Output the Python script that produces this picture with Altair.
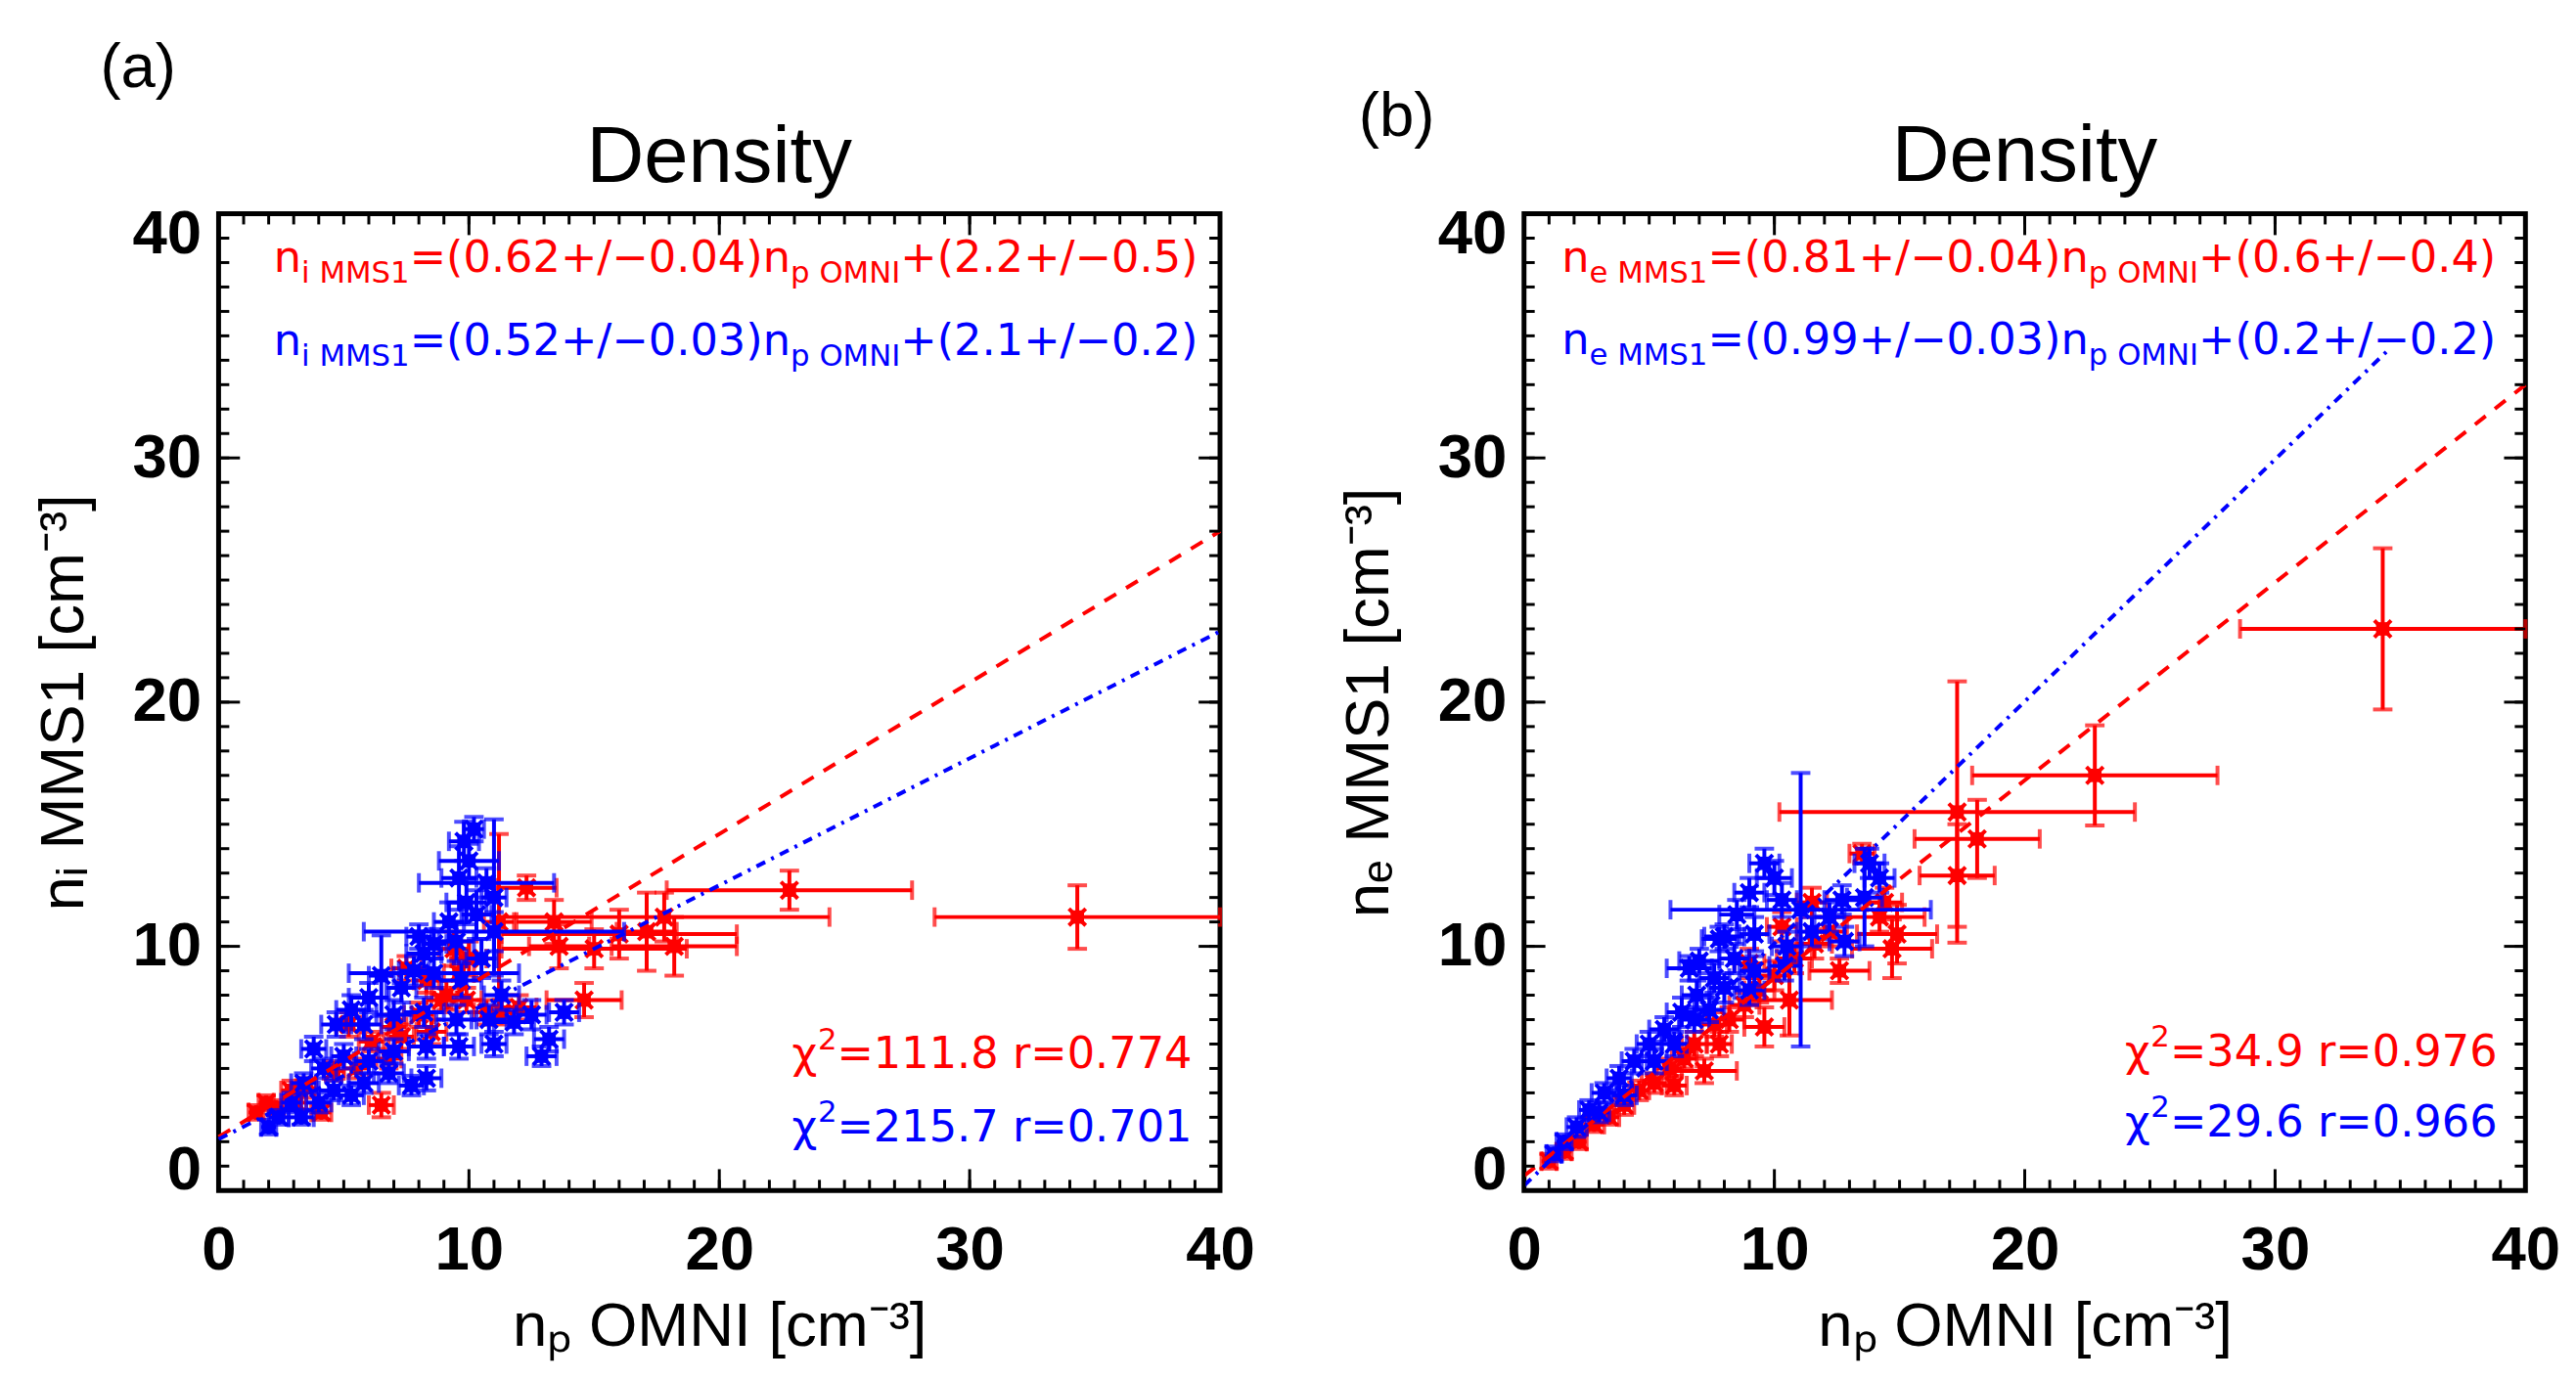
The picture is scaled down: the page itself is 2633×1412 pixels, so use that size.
import altair as alt
import pandas as pd

# ---------------- data ----------------
# Panel (a): n_i MMS1 vs n_p OMNI
A_RED_X  = [34.3, 22.8, 17.8, 16.0, 17.1, 15.0, 14.6, 13.4, 13.6, 11.2, 18.2, 12.3, 7.5, 8.3, 8.9, 9.9, 10.7, 6.1, 4.6, 2.9,
            1.9, 1.5, 6.5, 7.0, 8.5, 4.1, 5.2, 9.1, 11.3, 12.0, 7.3, 5.5, 3.5, 3.1, 8.0, 10.0, 9.6, 2.3, 6.8, 9.4]
A_RED_Y  = [11.2, 12.3, 11.2, 10.5, 10.6, 9.9, 7.8, 11.0, 10.0, 11.0, 10.0, 12.4, 9.1, 8.6, 7.8, 7.8, 7.3, 6.1, 4.9, 4.1,
            3.6, 3.2, 3.5, 6.7, 6.5, 3.2, 6.8, 8.0, 7.3, 7.5, 6.3, 5.0, 4.2, 3.6, 7.2, 9.5, 8.9, 3.4, 5.4, 9.9]
A_RED_XE = [5.7, 4.9, 6.6, 4.7, 1.2, 3.7, 1.5, 1.5, 1.2, 0.6, 2.5, 1.2, 0.6, 0.5, 0.6, 0.6, 0.5, 0.5, 0.4, 0.4,
            0.3, 0.3, 0.5, 0.5, 0.6, 0.4, 0.5, 0.6, 0.6, 0.7, 0.5, 0.5, 0.4, 0.4, 0.6, 0.7, 0.6, 0.3, 0.5, 0.6]
A_RED_YE = [1.3, 0.8, 1.0, 1.0, 1.6, 0.8, 0.7, 0.9, 0.9, 3.6, 1.2, 0.5, 0.5, 0.5, 0.5, 0.5, 0.5, 0.4, 0.4, 0.4,
            0.3, 0.3, 0.5, 0.5, 0.5, 0.3, 0.5, 0.6, 0.5, 0.5, 0.5, 0.4, 0.4, 0.3, 0.5, 0.7, 0.6, 0.3, 0.4, 0.7]

A_BLUE_X  = [11.0, 10.7, 11.0, 8.6, 6.5, 9.8, 10.0, 9.6, 10.2, 9.9, 10.3, 9.2, 9.5, 8.6, 8.2, 7.8, 10.5, 9.7, 7.3, 6.0,
             5.3, 4.7, 5.8, 7.0, 8.2, 9.5, 10.8, 11.8, 12.5, 13.8, 13.2, 12.9, 11.0, 9.6, 8.3, 7.0, 8.3, 7.7, 6.0, 5.0,
             4.2, 3.8, 3.4, 4.6, 5.8, 2.9, 2.4, 2.0, 3.3, 4.0, 5.3, 6.8, 11.3, 8.0]
A_BLUE_Y  = [12.0, 12.6, 10.6, 8.9, 8.8, 14.3, 13.5, 12.8, 14.8, 11.8, 11.3, 11.0, 10.2, 10.1, 9.7, 9.0, 9.5, 8.6, 8.3, 7.9,
             7.4, 6.8, 6.8, 7.2, 7.3, 7.0, 7.0, 6.9, 7.2, 7.3, 6.2, 5.5, 6.0, 5.9, 5.9, 5.7, 4.6, 4.3, 5.3, 5.5,
             5.0, 5.8, 4.4, 4.1, 4.4, 3.6, 3.0, 2.6, 3.0, 3.6, 3.9, 4.8, 8.0, 10.4]
A_BLUE_XE = [0.5, 2.7, 5.2, 3.4, 0.5, 0.6, 1.2, 0.7, 0.4, 0.8, 0.6, 0.6, 0.7, 0.5, 0.7, 0.6, 0.6, 0.8, 0.6, 0.8,
             0.6, 0.6, 0.7, 0.7, 0.8, 0.8, 0.7, 0.8, 0.6, 0.6, 0.6, 0.6, 0.5, 0.6, 0.7, 0.6, 0.6, 0.5, 0.6, 0.5,
             0.5, 0.5, 0.5, 0.6, 0.6, 0.4, 0.4, 0.3, 0.5, 0.5, 0.5, 0.6, 0.7, 0.5]
A_BLUE_YE = [3.2, 0.6, 0.8, 0.6, 1.65, 0.8, 0.7, 1.3, 0.5, 0.9, 1.0, 0.8, 0.8, 0.6, 0.6, 0.6, 0.8, 0.7, 0.6, 0.6,
             0.6, 0.5, 0.6, 0.6, 0.6, 0.6, 0.6, 0.5, 0.6, 0.5, 0.5, 0.4, 0.5, 0.5, 0.5, 0.5, 0.5, 0.4, 0.5, 0.5,
             0.4, 0.5, 0.4, 0.4, 0.4, 0.4, 0.3, 0.3, 0.3, 0.4, 0.4, 0.4, 0.6, 0.5]

# Panel (b): n_e MMS1 vs n_p OMNI
B_RED_X  = [34.3, 22.8, 17.3, 18.1, 17.3, 14.9, 14.7, 10.6, 9.6, 7.2, 14.2, 12.6, 13.5, 1.0, 1.6, 2.2, 2.8, 3.4, 4.0, 4.6,
            5.2, 5.8, 6.4, 6.8, 7.6, 8.2, 8.8, 9.4, 10.0, 10.8, 11.6, 12.2, 6.0, 7.8, 9.0, 10.3, 11.5, 14.4]
B_RED_Y  = [23.0, 17.0, 15.5, 14.4, 12.9, 10.5, 9.9, 7.8, 6.7, 4.9, 11.2, 9.0, 13.8, 1.2, 1.6, 2.0, 2.7, 3.0, 3.5, 4.1,
            4.4, 5.0, 5.4, 6.0, 6.8, 7.0, 7.6, 8.2, 8.8, 9.5, 10.1, 10.6, 4.3, 6.0, 9.3, 10.8, 11.8, 11.8]
B_RED_XE = [5.7, 4.9, 7.1, 2.5, 1.5, 1.6, 1.6, 1.7, 0.8, 1.3, 1.8, 1.2, 0.5, 0.3, 0.3, 0.3, 0.4, 0.4, 0.4, 0.4,
            0.5, 0.5, 0.5, 0.5, 0.5, 0.6, 0.6, 0.6, 0.6, 0.7, 0.7, 0.7, 0.5, 0.5, 0.6, 0.6, 0.6, 0.7]
B_RED_YE = [3.3, 2.05, 5.35, 1.6, 2.1, 1.2, 1.2, 1.45, 0.8, 0.5, 0.6, 0.5, 0.4, 0.3, 0.3, 0.3, 0.3, 0.3, 0.4, 0.4,
            0.4, 0.4, 0.4, 0.5, 0.5, 0.5, 0.5, 0.5, 0.6, 0.6, 0.6, 0.6, 0.4, 0.5, 0.6, 0.6, 0.6, 0.6]

B_BLUE_X  = [11.05, 13.6, 9.6, 10.0, 9.0, 10.3, 13.8, 14.2, 12.7, 12.2, 12.8, 8.5, 8.0, 7.0, 9.2, 8.4, 7.6, 6.9, 6.3, 5.6,
             5.0, 4.4, 3.8, 3.2, 2.6, 2.1, 1.6, 1.2, 5.2, 6.8, 8.0, 9.2, 10.5, 11.5, 4.0, 3.0, 6.0, 7.4, 9.0, 10.4,
             6.6, 7.8]
B_BLUE_Y  = [11.5, 12.0, 13.4, 12.8, 12.2, 11.9, 13.4, 12.8, 11.9, 11.2, 10.2, 11.3, 10.4, 9.4, 10.5, 9.5, 8.7, 8.0, 7.3, 6.6,
             6.0, 5.3, 4.6, 4.0, 3.3, 2.6, 2.0, 1.5, 5.3, 7.0, 8.3, 9.0, 10.0, 10.6, 3.9, 3.2, 6.0, 7.4, 8.2, 9.2,
             9.1, 10.3]
B_BLUE_XE = [5.2, 0.7, 0.6, 0.7, 0.6, 0.6, 0.6, 0.6, 0.7, 0.6, 0.6, 0.7, 0.8, 0.8, 0.6, 0.6, 0.6, 0.6, 0.6, 0.6,
             0.5, 0.5, 0.5, 0.5, 0.4, 0.4, 0.3, 0.3, 0.5, 0.6, 0.6, 0.6, 0.6, 0.6, 0.5, 0.4, 0.5, 0.6, 0.6, 0.6,
             0.9, 0.7]
B_BLUE_YE = [5.6, 2.0, 0.6, 0.7, 0.6, 0.7, 0.6, 0.6, 0.6, 0.6, 0.6, 0.6, 0.5, 0.5, 0.7, 0.6, 0.6, 0.6, 0.6, 0.5,
             0.5, 0.5, 0.5, 0.4, 0.4, 0.4, 0.3, 0.3, 0.5, 0.5, 0.6, 0.6, 0.6, 0.6, 0.4, 0.4, 0.5, 0.5, 0.6, 0.6,
             0.5, 0.5]

# Fit lines (end points)
A_RED_FIT_X, A_RED_FIT_Y = [0, 40], [2.2, 27.0]
A_BLUE_FIT_X, A_BLUE_FIT_Y = [0, 40], [2.1, 22.9]
B_RED_FIT_X, B_RED_FIT_Y = [0, 40], [0.6, 33.0]
B_BLUE_FIT_X, B_BLUE_FIT_Y = [0, 34.6], [0.2, 34.5]

# Axis ticks
MAJOR = [0, 10, 20, 30, 40]
MINOR = list(range(0, 41))

# Annotation texts
A_EQ_RED = [("n", "main"), ("i MMS1", "sub"), ("=(0.62+/\u22120.04)n", "main"), ("p OMNI", "sub"), ("+(2.2+/\u22120.5)", "main")]
A_EQ_BLUE = [("n", "main"), ("i MMS1", "sub"), ("=(0.52+/\u22120.03)n", "main"), ("p OMNI", "sub"), ("+(2.1+/\u22120.2)", "main")]
A_CHI_RED = [("\u03c7", "main"), ("2", "sup"), ("=111.8 r=0.774", "main")]
A_CHI_BLUE = [("\u03c7", "main"), ("2", "sup"), ("=215.7 r=0.701", "main")]
B_EQ_RED = [("n", "main"), ("e MMS1", "sub"), ("=(0.81+/\u22120.04)n", "main"), ("p OMNI", "sub"), ("+(0.6+/\u22120.4)", "main")]
B_EQ_BLUE = [("n", "main"), ("e MMS1", "sub"), ("=(0.99+/\u22120.03)n", "main"), ("p OMNI", "sub"), ("+(0.2+/\u22120.2)", "main")]
B_CHI_RED = [("\u03c7", "main"), ("2", "sup"), ("=34.9 r=0.976", "main")]
B_CHI_BLUE = [("\u03c7", "main"), ("2", "sup"), ("=29.6 r=0.966", "main")]
TITLE = "Density"
X_TITLE = "n\u209a OMNI [cm\u207b\u00b3]"
A_Y_TITLE = "n\u1d62 MMS1 [cm\u207b\u00b3]"
B_Y_TITLE = "n\u2091 MMS1 [cm\u207b\u00b3]"

# ---------------- styling ----------------
RED = "#ff0000"
BLUE = "#0000ff"
W, H = 1031, 1006
PPU = W / 40.0
FONT = "Liberation Sans"
TFONT = "DejaVu Sans"
MAIN_FS, SUB_FS = 45, 31
XPATH = "M-1,-1L1,1M-1,1L1,-1"

# DejaVu Sans advance widths (em)
ADV = {" ": 0.318, "(": 0.390, ")": 0.390, "+": 0.838, ".": 0.318, "/": 0.337, "=": 0.838, "\u2212": 0.838,
       "I": 0.295, "M": 0.863, "N": 0.748, "O": 0.787, "S": 0.635, "e": 0.615, "i": 0.278, "n": 0.634,
       "p": 0.635, "r": 0.411, "\u03c7": 0.592}
for d in "0123456789":
    ADV[d] = 0.636


def compose(parts, x0, y0, color):
    rows = []
    cx = x0
    for text, kind in parts:
        fs = MAIN_FS if kind == "main" else SUB_FS
        rows.append({"x": cx, "y": y0, "t": text, "kind": kind, "c": color})
        cx += sum(ADV.get(ch, 0.6) for ch in text) * fs / PPU
    return rows


XS = alt.Scale(domain=[0, 40], nice=False, zero=False)
YS = alt.Scale(domain=[0, 40], nice=False, zero=False)


def panel(label, label_xy, title_y, ytitle, red, blue, red_fit, blue_fit, texts):
    xaxis = alt.Axis(values=MAJOR, grid=False, domain=False, ticks=False, tickSize=0,
                     labelFont=FONT, labelFontSize=64, labelFontWeight="bold", labelColor="black",
                     labelPadding=30, labelFlush=False,
                     title=X_TITLE, titleFont=FONT, titleFontSize=64,
                     titleFontWeight="normal", titleColor="black", titlePadding=14)
    yaxis = alt.Axis(values=MAJOR, grid=False, domain=False, ticks=False, tickSize=0,
                     labelFont=FONT, labelFontSize=64, labelFontWeight="bold", labelColor="black",
                     labelPadding=18, labelFlush=True, labelFlushOffset=11,
                     title=ytitle, titleFont=FONT, titleFontSize=64,
                     titleFontWeight="normal", titleColor="black", titlePadding=38)

    def X(f):
        return alt.X(f, scale=XS, axis=xaxis)

    def Y(f):
        return alt.Y(f, scale=YS, axis=yaxis)

    layers = []
    # error bars + points
    for (xs_, ys_, xe_, ye_), col in ((red, RED), (blue, BLUE)):
        df = pd.DataFrame({"x": xs_, "y": ys_, "xe": xe_, "ye": ye_})
        base = alt.Chart(df)
        layers.append(base.mark_errorbar(ticks=True, size=20, thickness=4, color=col).encode(
            x=X("x:Q"), xError="xe:Q", y=Y("y:Q")))
        layers.append(base.mark_errorbar(ticks=True, size=20, thickness=4, color=col).encode(
            y=Y("y:Q"), yError="ye:Q", x=X("x:Q")))
        layers.append(base.mark_square(size=190, filled=True, color=col, opacity=1).encode(
            x=X("x:Q"), y=Y("y:Q")))
        layers.append(base.mark_point(shape=XPATH, filled=False, size=300, strokeWidth=4, color=col, opacity=1).encode(
            x=X("x:Q"), y=Y("y:Q")))
    # fit lines
    for (fx, fy), col, dash in ((red_fit, RED, [14, 12]), (blue_fit, BLUE, [10, 7, 3, 7])):
        ldf = pd.DataFrame({"x": fx, "y": fy})
        layers.append(alt.Chart(ldf).mark_line(color=col, strokeWidth=4, strokeDash=dash).encode(
            x=X("x:Q"), y=Y("y:Q")))
    # annotation texts
    rows = []
    for parts, x0, y0, col in texts:
        rows += compose(parts, x0, y0, col)
    tdf = pd.DataFrame(rows)
    for kind, fs, dy in (("main", MAIN_FS, 0), ("sub", SUB_FS, 11), ("sup", SUB_FS, -20)):
        sub = tdf[tdf["kind"] == kind]
        layers.append(alt.Chart(sub).mark_text(align="left", baseline="alphabetic", font=TFONT, fontSize=fs, dy=dy).encode(
            x=X("x:Q"), y=Y("y:Q"), text="t:N", color=alt.Color("c:N", scale=None)))
    # panel label and title
    ldf = pd.DataFrame({"x": [label_xy[0]], "y": [label_xy[1]], "t": [label]})
    layers.append(alt.Chart(ldf).mark_text(align="left", baseline="alphabetic", font=FONT, fontSize=64, color="black").encode(
        x=X("x:Q"), y=Y("y:Q"), text="t:N"))
    tldf = pd.DataFrame({"x": [20], "y": [title_y], "t": [TITLE]})
    layers.append(alt.Chart(tldf).mark_text(align="center", baseline="alphabetic", font=FONT, fontSize=82, color="black").encode(
        x=X("x:Q"), y=Y("y:Q"), text="t:N"))
    # inward ticks on all four sides
    for vals, L in ((MINOR, 11), (MAJOR, 22)):
        tc = alt.Chart(pd.DataFrame({"v": vals}))
        layers.append(tc.mark_rule(color="black", strokeWidth=3).encode(x=X("v:Q"), y=alt.value(H), y2=alt.value(H - L)))
        layers.append(tc.mark_rule(color="black", strokeWidth=3).encode(x=X("v:Q"), y=alt.value(0), y2=alt.value(L)))
        layers.append(tc.mark_rule(color="black", strokeWidth=3).encode(y=Y("v:Q"), x=alt.value(0), x2=alt.value(L)))
        layers.append(tc.mark_rule(color="black", strokeWidth=3).encode(y=Y("v:Q"), x=alt.value(W), x2=alt.value(W - L)))
    return alt.layer(*layers).properties(width=W, height=H)


pa = panel("(a)", (-4.73, 45.2), 41.3, A_Y_TITLE,
           (A_RED_X, A_RED_Y, A_RED_XE, A_RED_YE), (A_BLUE_X, A_BLUE_Y, A_BLUE_XE, A_BLUE_YE),
           (A_RED_FIT_X, A_RED_FIT_Y), (A_BLUE_FIT_X, A_BLUE_FIT_Y),
           [(A_EQ_RED, 2.2, 37.6, RED), (A_EQ_BLUE, 2.2, 34.2, BLUE),
            (A_CHI_RED, 22.9, 5.0, RED), (A_CHI_BLUE, 22.9, 2.0, BLUE)])
pb = panel("(b)", (-6.6, 43.2), 41.35, B_Y_TITLE,
           (B_RED_X, B_RED_Y, B_RED_XE, B_RED_YE), (B_BLUE_X, B_BLUE_Y, B_BLUE_XE, B_BLUE_YE),
           (B_RED_FIT_X, B_RED_FIT_Y), (B_BLUE_FIT_X, B_BLUE_FIT_Y),
           [(B_EQ_RED, 1.5, 37.6, RED), (B_EQ_BLUE, 1.5, 34.25, BLUE),
            (B_CHI_RED, 24.0, 5.1, RED), (B_CHI_BLUE, 24.0, 2.2, BLUE)])

chart = alt.hconcat(pa, pb, spacing=313, bounds="flush").configure_view(
    stroke="black", strokeWidth=5
).properties(padding={"left": 23, "top": 22, "right": 5, "bottom": 5}, background="white")

chart.save("out.html", embed_options={"renderer": "svg", "actions": False})
